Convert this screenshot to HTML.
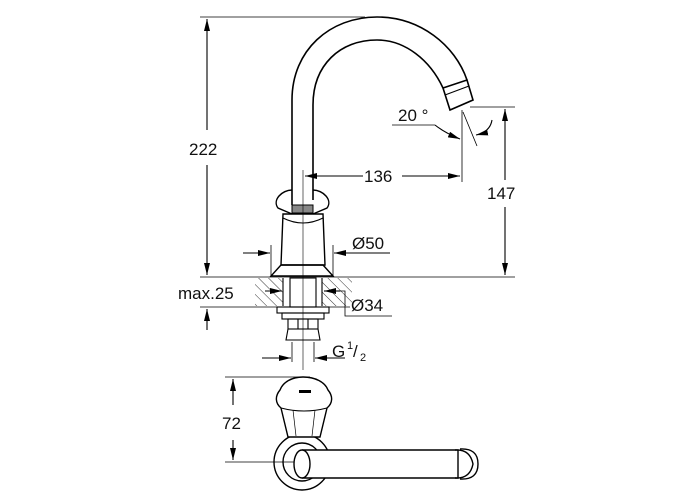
<!DOCTYPE html>
<html><head><style>
html,body{margin:0;padding:0;background:#fff}
svg{display:block}
text{font-family:"Liberation Sans",sans-serif;font-size:17px;fill:#111}
</style></head><body>
<svg width="700" height="500" viewBox="0 0 700 500" xmlns="http://www.w3.org/2000/svg">
<defs>
<marker id="a" markerWidth="12" markerHeight="6" refX="12" refY="3" orient="auto" markerUnits="userSpaceOnUse"><path d="M0,0 L12,3 L0,6 z" fill="#000"/></marker>
<pattern id="h" width="7" height="7" patternUnits="userSpaceOnUse" patternTransform="rotate(-45)"><line x1="0" y1="0" x2="0" y2="7" stroke="#000" stroke-width="0.8"/></pattern>
</defs>
<g fill="none" stroke="#000" stroke-width="1.1">
<line x1="200" y1="17" x2="365" y2="17" stroke-width="0.8"/>
<line x1="207" y1="130" x2="207" y2="19" marker-end="url(#a)"/>
<line x1="207" y1="165" x2="207" y2="275" marker-end="url(#a)"/>
<line x1="200" y1="277" x2="515" y2="277" stroke-width="0.8"/>
<path d="M292,205 L292,100 C292,50 330,17 377,17 C420,17 455,45 467,80" stroke-width="1.6"/>
<path d="M313,200 L313,105 C313,65 340,40 377,40 C405,40 430,60 443,88" stroke-width="1.6"/>
<path d="M443,88 L467,80 L473,100 L450,110 Z" stroke-width="1.6"/>
<line x1="445" y1="95" x2="469" y2="86"/>
<path d="M292,190 C282,190 272,200 278,208 L292,214 M313,190 C323,190 333,200 327,208 L313,214" stroke-width="1.4"/>
<rect x="292" y="205" width="21" height="8" fill="#888" stroke-width="1"/>
<path d="M283,214 L323,214 L325,265 L281,265 Z" stroke-width="1.4"/>
<path d="M283,218 Q303,228 323,218"/>
<path d="M281,265 L323,265 L333,276 L271,276 Z" stroke-width="1.4"/>
<line x1="303" y1="170" x2="303" y2="370" stroke-width="0.6"/>
<line x1="462" y1="110" x2="462" y2="182" stroke-width="0.8"/>
<line x1="363" y1="176" x2="305" y2="176" marker-end="url(#a)"/>
<line x1="402" y1="176" x2="460" y2="176" marker-end="url(#a)"/>
<line x1="470" y1="107" x2="515" y2="107" stroke-width="0.8"/>
<line x1="505" y1="180" x2="505" y2="109" marker-end="url(#a)"/>
<line x1="505" y1="207" x2="505" y2="275" marker-end="url(#a)"/>
<line x1="392" y1="125" x2="435" y2="125" stroke-width="0.8"/>
<path d="M435,125 Q445,133 460,139" marker-end="url(#a)"/>
<line x1="463" y1="112" x2="477" y2="146" stroke-width="0.8"/>
<path d="M492,120 Q490,132 476,135" marker-end="url(#a)"/>
<line x1="243" y1="253" x2="270" y2="253" marker-end="url(#a)"/>
<line x1="390" y1="253" x2="334" y2="253" marker-end="url(#a)"/>
<line x1="271" y1="245" x2="271" y2="277" stroke-width="0.8"/>
<line x1="333" y1="245" x2="333" y2="277" stroke-width="0.8"/>
<rect x="255" y="278" width="28" height="28" fill="url(#h)" stroke="none"/>
<rect x="322" y="278" width="30" height="28" fill="url(#h)" stroke="none"/>
<line x1="200" y1="307" x2="350" y2="307" stroke-width="0.8"/>
<path d="M283,278 L283,306 M322,278 L322,306"/>
<rect x="290" y="278" width="26" height="29"/>
<rect x="277" y="307" width="52" height="6"/>
<rect x="282" y="313" width="42" height="6"/>
<rect x="288" y="319" width="30" height="10"/>
<path d="M288,329 L318,329 L320,340 L286,340 Z"/>
<line x1="298" y1="319" x2="298" y2="329"/><line x1="308" y1="319" x2="308" y2="329"/>
<line x1="265" y1="291" x2="282" y2="291" marker-end="url(#a)"/>
<line x1="340" y1="291" x2="324" y2="291" marker-end="url(#a)"/>
<path d="M340,291 L345,291 L345,316 L392,316" stroke-width="0.8"/>
<line x1="207" y1="330" x2="207" y2="309" marker-end="url(#a)"/>
<line x1="292" y1="342" x2="292" y2="362" stroke-width="0.8"/>
<line x1="314" y1="342" x2="314" y2="362" stroke-width="0.8"/>
<line x1="262" y1="358" x2="291" y2="358" marker-end="url(#a)"/>
<line x1="345" y1="358" x2="315" y2="358" marker-end="url(#a)"/>
<line x1="225" y1="377" x2="310" y2="377" stroke-width="0.8"/>
<line x1="225" y1="462" x2="305" y2="462" stroke-width="0.8"/>
<line x1="233" y1="405" x2="233" y2="379" marker-end="url(#a)"/>
<line x1="233" y1="440" x2="233" y2="460" marker-end="url(#a)"/>
<circle cx="302" cy="462" r="28" stroke-width="1.4"/>
<circle cx="302" cy="462" r="19" stroke-width="1.4"/>
<path d="M303,377 C315,377 325,382 328,390 C333,396 333,403 327,408 L320,437 L288,437 L281,408 C275,403 275,396 280,390 C283,382 292,377 303,377 Z" fill="#fff" stroke-width="1.4"/>
<path d="M281,408 Q304,414 327,408"/>
<path d="M293,410 L296,436 M315,410 L312,436" stroke-width="0.7"/>
<rect x="299" y="390" width="12" height="3" fill="#000" stroke="none"/>
<path d="M302,450 L458,450 L458,478 L302,478" fill="#fff" stroke-width="1.4"/>
<ellipse cx="302" cy="464" rx="8" ry="14" fill="#fff" stroke-width="1.4"/>
<path d="M455,450 Q470,449 473,464 Q470,479 455,478" stroke-width="1.4"/>
<path d="M460,449 Q478,448 478,464 Q478,480 460,479" stroke-width="1.4"/>
</g>
<text x="189" y="155">222</text>
<text x="364" y="182">136</text>
<text x="487" y="199">147</text>
<text x="398" y="121">20 °</text>
<text x="352" y="249">Ø50</text>
<text x="178" y="299">max.25</text>
<text x="351" y="311">Ø34</text>
<text x="332" y="357">G</text><text x="347" y="349" style="font-size:11px">1</text><text x="353" y="357">/</text><text x="360" y="361" style="font-size:11px">2</text>
<text x="222" y="429">72</text>
</svg>
</body></html>
